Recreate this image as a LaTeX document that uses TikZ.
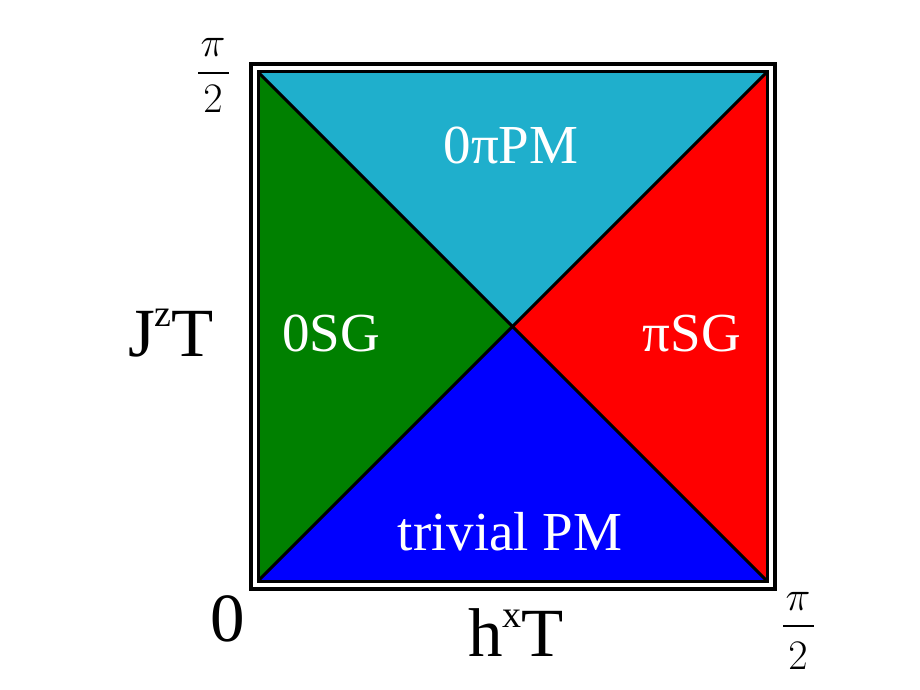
\documentclass[tikz,border=0pt]{standalone}
\usepackage{fix-cm}
\usepackage{fontspec}
\setmainfont{Liberation Serif}
\definecolor{tealc}{RGB}{31,175,204}
\definecolor{greenc}{RGB}{0,128,0}
\definecolor{redc}{RGB}{255,0,0}
\definecolor{bluec}{RGB}{0,0,255}
\tikzset{
  region/.style={text=white, inner sep=0pt, anchor=base, font=\fontsize{55}{55}\selectfont},
  axislabel/.style={text=black, inner sep=0pt, anchor=base, font=\fontsize{69}{69}\selectfont},
  fracpart/.style={text=black, inner sep=0pt, anchor=base, font=\fontsize{42}{42}\selectfont},
  edge/.style={draw=black, line width=3pt, line join=miter},
  outerframe/.style={draw=black, line width=4pt},
  fracbar/.style={draw=black, line width=2pt}
}
\begin{document}
\begin{tikzpicture}[x=1pt,y=-1pt]
\useasboundingbox (0,0) rectangle (920,690);
\coordinate (TL) at (258,72);
\coordinate (TR) at (767,72);
\coordinate (BR) at (767,581);
\coordinate (BL) at (258,581);
\coordinate (C) at (512.5,326.5);
% regions
\fill[tealc] (TL) -- (TR) -- (C) -- cycle;
\fill[greenc] (TL) -- (C) -- (BL) -- cycle;
\fill[redc] (TR) -- (BR) -- (C) -- cycle;
\fill[bluec] (BL) -- (C) -- (BR) -- cycle;
% lines
\draw[edge] (TL) -- (BR);
\draw[edge] (TR) -- (BL);
\draw[edge] (TL) rectangle (BR);
\draw[outerframe] ([shift={(-7.5,-7.5)}]TL) rectangle ([shift={(7.5,7.5)}]BR);
% region labels
\node[region] (pm0) at (511,163) {0πPM};
\node[region] (sg0) at (331,351) {0SG};
\node[region] (sgpi) at (692,351) {πSG};
\node[region] (triv) at (510,550) {trivial PM};
% axis labels
\node[axislabel] (jz) at (171,356) {J\raisebox{30pt}{\fontsize{38}{38}\selectfont z}T};
\node[axislabel] (hx) at (516,656) {h\raisebox{29pt}{\fontsize{38}{38}\selectfont x}T};
\node[axislabel] (zero) at (228,641) {0};
% fractions
\node[fracpart] (tlnum) at (213,57) {$\pi$};
\coordinate (tlbarL) at (198,73);
\coordinate (tlbarR) at (229,73);
\draw[fracbar] (tlbarL) -- (tlbarR);
\node[fracpart] (tlden) at (213,113) {$2$};
\node[fracpart] (brnum) at (798,610) {$\pi$};
\coordinate (brbarL) at (783,626);
\coordinate (brbarR) at (814,626);
\draw[fracbar] (brbarL) -- (brbarR);
\node[fracpart] (brden) at (798,669) {$2$};
\end{tikzpicture}
\end{document}
